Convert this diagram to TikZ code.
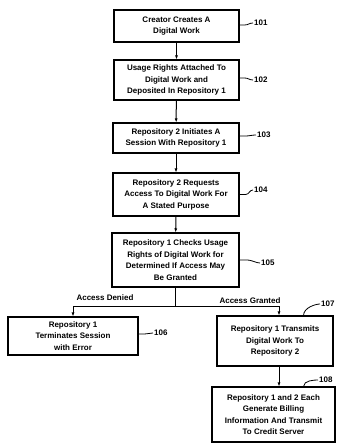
\documentclass[tikz,border=0pt]{standalone}
\usepackage{fontspec}
\setmainfont{Liberation Sans}
\usetikzlibrary{arrows.meta}

\begin{document}
\begin{tikzpicture}[x=1pt,y=-1pt,
  stepbox/.style={draw,line width=1.1pt,align=center,inner sep=0pt,
    font=\fontsize{8}{11.5}\selectfont\bfseries},
  flow/.style={-{Latex[length=4pt,width=3pt]},line width=1pt},
  refnum/.style={font=\fontsize{8}{9}\selectfont\bfseries,inner sep=1pt,anchor=west},
  lead/.style={line width=0.8pt}]
\useasboundingbox (0,0) rectangle (338,443);

% main column
\node[stepbox,minimum width=125pt,minimum height=32pt] (create) at (176.5,26) {Creator Creates A\\Digital Work};
\node[stepbox,minimum width=125pt,minimum height=40pt] (attach) at (176.5,80) {Usage Rights Attached To\\Digital Work and\\Deposited In Repository 1};
\node[stepbox,minimum width=126pt,minimum height=30pt] (session) at (176,138) {Repository 2 Initiates A\\Session With Repository 1};
\node[stepbox,minimum width=126pt,minimum height=43pt] (request) at (176,194.5) {Repository 2 Requests\\Access To Digital Work For\\A Stated Purpose};
\node[stepbox,minimum width=127pt,minimum height=54pt] (check) at (175.5,260) {Repository 1 Checks Usage\\Rights of Digital Work for\\Determined If Access May\\Be Granted};

% branches
\node[stepbox,minimum width=130pt,minimum height=38pt] (deny) at (73,336) {Repository 1\\Terminates Session\\with Error};
\node[stepbox,minimum width=116pt,minimum height=50pt] (grant) at (275,341) {Repository 1 Transmits\\Digital Work To\\Repository 2};
\node[stepbox,minimum width=123pt,minimum height=55pt] (bill) at (273.5,414.5) {Repository 1 and 2 Each\\Generate Billing\\Information And Transmit\\To Credit Server};

\coordinate (split) at (175.5,306);
\node[font=\fontsize{8}{9}\selectfont\bfseries,anchor=base] (denied) at (105,300) {Access Denied};
\node[font=\fontsize{8}{9}\selectfont\bfseries,anchor=base] (granted) at (250,303) {Access Granted};

% arrows
\draw[flow] (create) -- (attach);
\draw[flow] (attach) -- (session);
\draw[flow] (session) -- (request);
\draw[flow] (request) -- (check);
\draw[line width=1pt] (check) -- (split);
\draw[flow] (split) -| (deny);
\draw[flow] (split) -| ([xshift=4pt]grant.north);
\draw[flow] ([xshift=4pt]grant.south) -- ([xshift=4pt]grant.south |- bill.north);

% reference numbers
\node[refnum] (n101) at (253,23) {101};
\node[refnum] (n102) at (253,80) {102};
\node[refnum] (n103) at (256,135) {103};
\node[refnum] (n104) at (253,190) {104};
\node[refnum] (n105) at (260,263) {105};
\node[refnum] (n106) at (153,333) {106};
\node[refnum] (n107) at (320,304) {107};
\node[refnum] (n108) at (318,380) {108};

\draw[lead] ([yshift=1pt]create.east) -- ++(5,0) .. controls +(4,0) and +(-4,0) .. (n101.west);
\draw[lead] ([yshift=2pt]attach.east) -- ++(5,0) .. controls +(4,0) and +(-4,0) .. (n102.west);
\draw[lead] ([yshift=2pt]session.east) -- ++(6,0) .. controls +(4,0) and +(-4,0) .. (n103.west);
\draw[lead] ([yshift=0pt]request.east) -- ++(6,0) .. controls +(4,0) and +(-4,0) .. (n104.west);
\draw[lead] ([yshift=0pt]check.east) -- ++(8,0) .. controls +(4,0) and +(-4,0) .. (n105.west);
\draw[lead] ([yshift=2pt]deny.east) -- ++(6,0) .. controls +(4,0) and +(-4,0) .. (n106.west);
\draw[lead] ([xshift=-30pt]grant.north east) .. controls +(0,-8) and +(-4,0) .. (n107.west);
\draw[lead] ([xshift=-32pt]bill.north east) .. controls +(0,-6) and +(-4,0) .. (n108.west);
\end{tikzpicture}
\end{document}
